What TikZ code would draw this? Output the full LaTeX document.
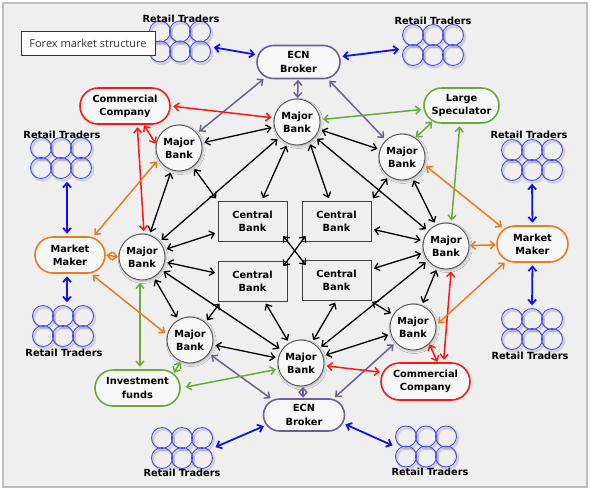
\documentclass[tikz,border=0pt]{standalone}
\usepackage{fontspec}
\setmainfont{DejaVu Sans}
\newfontfamily\titlefont{Open Sans}
\usetikzlibrary{arrows.meta,shapes.misc,shadows.blur}
\definecolor{bgc}{HTML}{EFEFEF}
\definecolor{framec}{HTML}{BDBDBD}
\definecolor{bluec}{HTML}{1010F0}
\definecolor{rtblue}{HTML}{4848F5}
\definecolor{purp}{HTML}{6E5E96}
\definecolor{redc}{HTML}{FF1515}
\definecolor{greenc}{HTML}{6BAA38}
\definecolor{orangec}{HTML}{EC7A1C}
\definecolor{nodefill}{HTML}{F7F7F7}
\definecolor{bankline}{HTML}{555555}
\tikzset{
  lbl/.style={font=\fontsize{9.8}{13.3}\selectfont\bfseries, align=center, inner sep=0pt},
  bank/.style={lbl, circle, draw=bankline, line width=0.9pt, fill=nodefill, minimum size=46pt,
    blur shadow={shadow xshift=1.2pt,shadow yshift=-1.5pt,shadow blur radius=2pt,shadow opacity=25}},
  cbank/.style={lbl, rectangle, draw=black!75, line width=1pt, fill=bgc, minimum width=69pt, minimum height=40pt},
  stad/.style={lbl, rounded rectangle, line width=1.6pt, fill=nodefill, minimum height=36pt},
  rtbox/.style={rectangle, minimum width=62pt, minimum height=42pt, inner sep=0pt},
  con/.style={<->, line width=1.3pt, shorten <=2.5pt, shorten >=2.5pt},
  kc/.style={con, black},
  bc/.style={con, bluec, line width=1.8pt},
  pc/.style={con, purp, line width=1.5pt},
  rc/.style={con, redc, line width=1.5pt},
  gc/.style={con, greenc, line width=1.5pt},
  oc/.style={con, orangec, line width=1.5pt},
  tight/.style={shorten <=0.5pt, shorten >=0.5pt},
  rtpic/.pic={
    \foreach \i in {-20,0,20}{\foreach \j in {-10,10}{
      \draw[black, opacity=0.12, line width=2.4pt] (\i+1.5,\j+2) circle[radius=10.5pt];}}
    \foreach \i in {-20,0,20}{\foreach \j in {-10,10}{
      \draw[rtblue, line width=0.9pt] (\i,\j) circle[radius=10.5pt];}}
  }
}
\begin{document}
\begin{tikzpicture}[x=1pt,y=-1pt, >={Straight Barb[length=4.5pt,width=8pt]}]
\useasboundingbox (0,0) rectangle (591,491);
\draw[framec, line width=1.2pt, fill=bgc] (3,3) rectangle (587,487);

% stadium nodes
\node[stad, draw=purp, minimum width=83pt, minimum height=33pt] (ecnT) at (298.5,62) {ECN\\Broker};
\node[stad, draw=purp, minimum width=81pt, minimum height=32pt] (ecnB) at (304,415) {ECN\\Broker};
\node[stad, draw=redc, minimum width=90pt] (cc1) at (125,106) {Commercial\\Company};
\node[stad, draw=redc, minimum width=89pt, minimum height=37pt] (cc2) at (425.5,381.5) {Commercial\\Company};
\node[stad, draw=greenc, minimum width=75pt, minimum height=35pt] (ls) at (461.5,105.5) {Large\\Speculator};
\node[stad, draw=orangec, minimum width=70pt] (mmL) at (70,255) {Market\\Maker};
\node[stad, draw=orangec, minimum width=71pt] (mmR) at (532.5,244) {Market\\Maker};
\node[stad, draw=greenc, minimum width=85pt] (inv) at (137.5,388) {Investment\\funds};

% major banks
\node[bank] (mbT) at (297,122) {Major\\Bank};
\node[bank] (mbLU) at (179,148) {Major\\Bank};
\node[bank] (mbRU) at (402,157) {Major\\Bank};
\node[bank] (mbLM) at (142,257) {Major\\Bank};
\node[bank] (mbRM) at (446,246) {Major\\Bank};
\node[bank] (mbLL) at (190,340) {Major\\Bank};
\node[bank] (mbRL) at (413,327) {Major\\Bank};
\node[bank] (mbB) at (301,363) {Major\\Bank};

% central banks
\node[cbank] (cbTL) at (252.5,221) {Central\\Bank};
\node[cbank] (cbTR) at (336.5,221) {Central\\Bank};
\node[cbank] (cbBL) at (252.5,281) {Central\\Bank};
\node[cbank] (cbBR) at (336.5,280) {Central\\Bank};

% retail traders
\node[rtbox] (rt1) at (180,41.5) {}; \pic at (rt1.center) {rtpic};
\node[lbl] (rt1l) at (181,19) {Retail Traders};
\node[rtbox] (rt2) at (433,45) {}; \pic at (rt2.center) {rtpic};
\node[lbl] (rt2l) at (433,21) {Retail Traders};
\node[rtbox] (rt3) at (61,158) {}; \pic at (rt3.center) {rtpic};
\node[lbl] (rt3l) at (62,135) {Retail Traders};
\node[rtbox] (rt4) at (532,160) {}; \pic at (rt4.center) {rtpic};
\node[lbl] (rt4l) at (529,135) {Retail Traders};
\node[rtbox] (rt5) at (63,326) {}; \pic at (rt5.center) {rtpic};
\node[lbl] (rt5l) at (64,353) {Retail Traders};
\node[rtbox] (rt6) at (532,329) {}; \pic at (rt6.center) {rtpic};
\node[lbl] (rt6l) at (530,356) {Retail Traders};
\node[rtbox] (rt7) at (182,448) {}; \pic at (rt7.center) {rtpic};
\node[lbl] (rt7l) at (182,473) {Retail Traders};
\node[rtbox] (rt8) at (426,446.5) {}; \pic at (rt8.center) {rtpic};
\node[lbl] (rt8l) at (430,472) {Retail Traders};

% blue
\draw[bc] (rt1) -- (ecnT);
\draw[bc] (ecnT) -- (rt2);
\draw[bc] ([xshift=6pt]rt3.south) -- ([xshift=-3pt]mmL.north);
\draw[bc] ([xshift=-3pt]mmL.south) -- ([xshift=4pt]rt5.north);
\draw[bc] (rt4.south) -- (mmR.north);
\draw[bc] (mmR.south) -- (rt6.north);
\draw[bc] (rt7.east) -- (ecnB.195);
\draw[bc] (ecnB.-12) -- (rt8.west);

% purple
\draw[pc, tight] (ecnT) -- (mbT);
\draw[pc] (ecnT.205) -- (mbLU);
\draw[pc] (ecnT.-30) -- (mbRU);
\draw[pc, tight] (mbB.-85) -- (mbB.-85 |- ecnB.north);
\draw[pc] (ecnB.154) -- (mbLL);
\draw[pc] (ecnB.29) -- (mbRL);

% red
\draw[rc] (cc1.east) -- (mbT.170);
\draw[rc, tight] (cc1.-45) -- (mbLU.170);
\draw[rc] (cc1.-57) -- (mbLM.85);
\draw[rc] (mbB) -- (cc2.168);
\draw[rc, tight] (mbRL.-46) -- (cc2.58);
\draw[rc] (mbRM.-77) -- (cc2.47);

% green
\draw[gc] (mbT) -- (ls);
\draw[gc, tight] (ls.209) -- (mbRU.55);
\draw[gc] (ls.-95) -- (mbRM.77);
\draw[gc] (mbLM.-95) -- (mbLM.-95 |- inv.north);
\draw[gc, tight] (inv.22) -- (mbLL.-114);
\draw[gc, shorten <=5pt] (inv.east) -- (mbB.195);

% orange
\draw[oc, tight] (mmL.east) -- (mbLM.west);
\draw[oc] (mmL.38) -- (mbLU.209);
\draw[oc] (mmL.-42) -- (mbLL.167);
\draw[oc, tight] (mbRM) -- (mmR);
\draw[oc] (mbRU.-19) -- (mmR.152);
\draw[oc] (mmR.213) -- (mbRL.5);

% black
\draw[kc] (mbLU) -- (mbT);
\draw[kc] (mbLU) -- (mbLM);
\draw[kc] (mbLU) -- (cbTL.north west);
\draw[kc] (mbT) -- (mbLM);
\draw[kc] (mbT) -- (cbTL);
\draw[kc] (mbT.-58) -- (cbTR.109);
\draw[kc] (mbT) -- (mbRU);
\draw[kc] (mbT) -- (mbRM);
\draw[kc] (mbRU) -- (cbTR.north east);
\draw[kc] (mbRU) -- (mbRM);
\draw[kc] (cbTR) -- (mbRM);
\draw[kc] (mbLM) -- (cbTL);
\draw[kc] (mbLM) -- (cbBL);
\draw[kc] (mbLM) -- (mbB);
\draw[kc] (mbLM) -- (mbLL);
\draw[kc] (cbBL.213) -- (mbLL.49);
\draw[kc] (cbBL) -- (mbB);
\draw[kc] (cbBR.south) -- (mbB.62);
\draw[kc] (cbBR) -- (mbRL);
\draw[kc] (cbBR) -- (mbRM);
\draw[kc] (mbB) -- (mbRM);
\draw[kc] (mbB) -- (mbRL);
\draw[kc] (mbRM) -- (mbRL);
\draw[kc] (mbLL) -- (mbB);
\draw[kc, shorten <=-7pt, shorten >=-7pt] (cbTL.south east) -- (cbBR.north west);
\draw[kc, shorten <=-7pt, shorten >=-7pt] (cbTR.south west) -- (cbBL.north east);

% title
\node[draw=black!80, fill=white, line width=0.8pt, minimum width=134pt, minimum height=24pt, inner sep=0pt,
  font=\titlefont\fontsize{11}{13}\selectfont, text=black!80] (title) at (88,43) {Forex market structure};
\end{tikzpicture}
\end{document}
